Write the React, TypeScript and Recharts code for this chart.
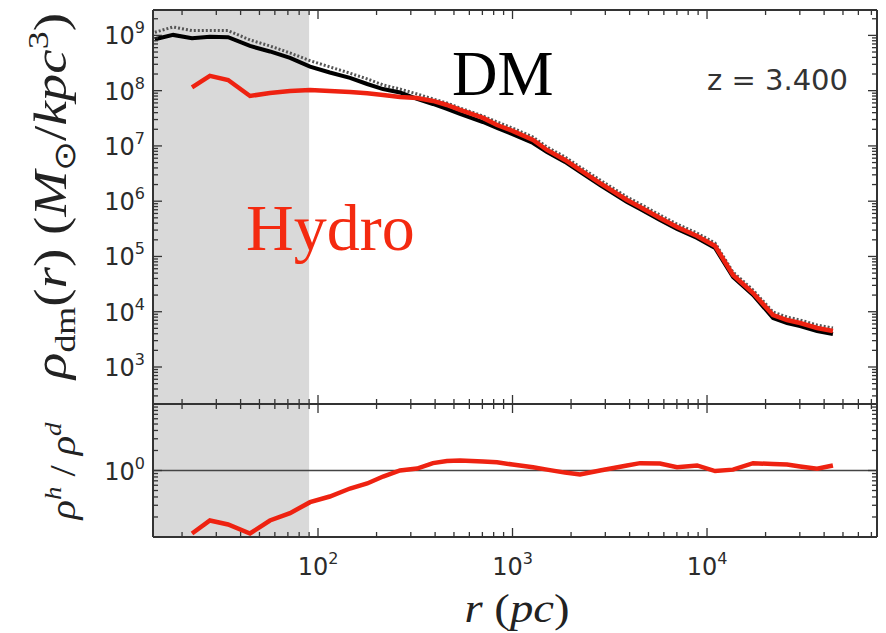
import React from 'react';
import { LineChart, Line, XAxis, YAxis, ReferenceArea, ReferenceLine, Label } from 'recharts';

// radius (pc)
const radiusPc = [
  14.5, 18.0, 22.5, 27.8, 34.5, 44.7, 56.6, 71.8, 91, 115,
  146, 179, 216, 264, 323, 390, 460, 537, 705, 832,
  1000, 1275, 1504, 1862, 2223, 2818, 3880, 4527, 5730, 7010,
  8890, 11000, 13600, 17250, 21850, 25800, 30100, 36800, 44400,
];
// DM density in the hydro run (black solid)
const dmDensity = [
  8.51e8, 1.02e9, 8.87e8, 9.48e8, 9.25e8, 6.44e8, 5.12e8, 3.91e8, 2.72e8, 2.13e8,
  1.7e8, 1.32e8, 1.07e8, 9.27e7, 7.08e7, 5.74e7, 4.67e7, 3.79e7, 2.71e7, 2.11e7,
  1.64e7, 1.13e7, 7.76e6, 5.13e6, 3.38e6, 1.96e6, 9.68e5, 7.23e5, 4.57e5, 3.14e5,
  2.16e5, 1.42e5, 4.25e4, 2.01e4, 7.69e3, 6.25e3, 5.51e3, 4.48e3, 3.95e3,
];
// DM-only run (dotted)
const dmOnlyDensity = [
  1.14e9, 1.42e9, 1.22e9, 1.23e9, 1.22e9, 8.28e8, 6.44e8, 4.81e8, 3.49e8, 2.69e8,
  2.07e8, 1.63e8, 1.27e8, 1.07e8, 8.71e7, 7.08e7, 5.99e7, 4.86e7, 3.48e7, 2.71e7,
  2.11e7, 1.45e7, 9.57e6, 6.31e6, 4.16e6, 2.42e6, 1.19e6, 8.91e5, 5.62e5, 3.86e5,
  2.65e5, 1.75e5, 5.22e4, 2.47e4, 9.89e3, 8.02e3, 7.08e3, 5.75e3, 5.07e3,
];
// Hydro (red)
const hydroDensity = [
  null, null, 1.15e8, 1.85e8, 1.56e8, 8.02e7, 9.08e7, 9.88e7, 1.03e8, 9.88e7,
  9.47e7, 8.97e7, 8.36e7, 7.69e7, 7.38e7, 6.51e7, 5.51e7, 4.48e7, 3.21e7, 2.39e7,
  1.87e7, 1.28e7, 8.45e6, 5.57e6, 3.68e6, 2.13e6, 1.05e6, 7.85e5, 4.97e5, 3.41e5,
  2.34e5, 1.55e5, 4.61e4, 2.18e4, 8.71e3, 7.08e3, 6.25e3, 5.07e3, 4.48e3,
];
// rho_h / rho_d (bottom panel)
const densityRatio = [
  null, null, 0.113, 0.177, 0.154, 0.113, 0.177, 0.228, 0.334, 0.406,
  0.536, 0.638, 0.812, 1.0, 1.07, 1.29, 1.39, 1.41, 1.37, 1.33,
  1.23, 1.12, 1.03, 0.93, 0.87, 1.0, 1.19, 1.29, 1.27, 1.12,
  1.19, 0.98, 1.03, 1.29, 1.25, 1.23, 1.15, 1.06, 1.19,
];

const xMajorTicks = [100, 1000, 10000];
const xMinorTicks = [
  20, 30, 40, 50, 60, 70, 80, 90,
  200, 300, 400, 500, 600, 700, 800, 900,
  2000, 3000, 4000, 5000, 6000, 7000, 8000, 9000,
  20000, 30000, 40000, 50000, 60000, 70000,
];
const densityMajorTicks = [1e3, 1e4, 1e5, 1e6, 1e7, 1e8, 1e9];
const densityMinorTicks = [
  3e2, 4e2, 5e2, 6e2, 7e2, 8e2, 9e2,
  2e3, 3e3, 4e3, 5e3, 6e3, 7e3, 8e3, 9e3,
  2e4, 3e4, 4e4, 5e4, 6e4, 7e4, 8e4, 9e4,
  2e5, 3e5, 4e5, 5e5, 6e5, 7e5, 8e5, 9e5,
  2e6, 3e6, 4e6, 5e6, 6e6, 7e6, 8e6, 9e6,
  2e7, 3e7, 4e7, 5e7, 6e7, 7e7, 8e7, 9e7,
  2e8, 3e8, 4e8, 5e8, 6e8, 7e8, 8e8, 9e8,
  2e9,
];
const ratioMajorTicks = [1];
const ratioMinorTicks = [0.2, 0.3, 0.4, 0.5, 0.6, 0.7, 0.8, 0.9, 2, 3, 4, 5, 6, 7, 8, 9];
const shadedLimitPc = 90;
const redshiftText = 'z = 3.400';
const dmText = 'DM';
const hydroText = 'Hydro';

const X_DOMAIN = [14.18, 74800];
const DENSITY_DOMAIN = [214, 2.88e9];
const RATIO_DOMAIN = [0.1, 10];

const chartData = radiusPc.map((r, i) => ({
  r,
  dm: dmDensity[i],
  dmOnly: dmOnlyDensity[i],
  hydro: hydroDensity[i],
  ratio: densityRatio[i],
}));

const AXIS_COLOR = '#333333';
const TICK_FONT = "'DejaVu Sans', sans-serif";
const MATH_FONT = "'Liberation Serif', 'Times New Roman', serif";
const RED = '#ee2211';

function PowText({ x, y, exp, anchor }: { x: number; y: number; exp: number; anchor: string }) {
  return (
    <text x={x} y={y} textAnchor={anchor as any} fontFamily={TICK_FONT} fontSize={24} fill="#2b2b2b">
      10<tspan dy={-11} fontSize={16}>{exp}</tspan>
    </text>
  );
}

function makeTick(side: 'left' | 'right' | 'top' | 'bottom', majors: number[], labelled: boolean) {
  return function Tick(props: any) {
    const { x, y, payload } = props;
    const v = Number(payload?.value);
    const major = majors.some((m) => Math.abs(v / m - 1) < 1e-6);
    const len = major ? 9 : 5;
    let x2 = x;
    let y2 = y;
    if (side === 'left') x2 = x + len;
    if (side === 'right') x2 = x - len;
    if (side === 'top') y2 = y + len;
    if (side === 'bottom') y2 = y - len;
    const exp = Math.round(Math.log10(v));
    return (
      <g>
        <line x1={x} y1={y} x2={x2} y2={y2} stroke={AXIS_COLOR} strokeWidth={1.3} />
        {labelled && major && side === 'left' && <PowText x={x - 8} y={y + 9} exp={exp} anchor="end" />}
        {labelled && major && side === 'bottom' && <PowText x={x} y={y + 38} exp={exp} anchor="middle" />}
      </g>
    );
  };
}

const xAllTicks = [...xMajorTicks, ...xMinorTicks].sort((a, b) => a - b);
const densityAllTicks = [...densityMajorTicks, ...densityMinorTicks].sort((a, b) => a - b);
const ratioAllTicks = [...ratioMajorTicks, ...ratioMinorTicks].sort((a, b) => a - b);

const axisLine = { stroke: AXIS_COLOR, strokeWidth: 2 };

function TopAnnotations() {
  return (
    <g>
      <text x={452} y={95} fontFamily={MATH_FONT} fontSize={63} fill="#000">{dmText}</text>
      <text x={246} y={250} fontFamily={MATH_FONT} fontSize={66} fill="#f42a10">{hydroText}</text>
      <text x={707} y={90} fontFamily={TICK_FONT} fontSize={29} fill="#333">{redshiftText}</text>
      <text
        transform="translate(66,196) rotate(-90)"
        textAnchor="middle"
        fontFamily={MATH_FONT}
        fontSize={46}
        fill="#222"
        textLength={366}
        lengthAdjust="spacingAndGlyphs"
      >
        <tspan fontStyle="italic">ρ</tspan>
        <tspan fontSize={30} dy={9}>dm</tspan>
        <tspan dy={-9}>(</tspan>
        <tspan fontStyle="italic">r</tspan>
        <tspan>) (</tspan>
        <tspan fontStyle="italic">M</tspan>
        <tspan fontSize={30} dy={9}>⊙</tspan>
        <tspan dy={-9}>/</tspan>
        <tspan fontStyle="italic">kpc</tspan>
        <tspan fontSize={30} dy={-18}>3</tspan>
        <tspan dy={18}>)</tspan>
      </text>
    </g>
  );
}

function BottomAnnotations() {
  return (
    <g>
      <text
        transform="translate(75,471) rotate(-90)"
        textAnchor="middle"
        fontFamily={MATH_FONT}
        fontSize={36}
        fill="#222"
        textLength={97}
        lengthAdjust="spacingAndGlyphs"
      >
        <tspan fontStyle="italic">ρ</tspan>
        <tspan fontStyle="italic" fontSize={24} dy={-14}>h</tspan>
        <tspan dy={14}> / </tspan>
        <tspan fontStyle="italic">ρ</tspan>
        <tspan fontStyle="italic" fontSize={24} dy={-14}>d</tspan>
      </text>
      <text
        x={517}
        y={622}
        textAnchor="middle"
        fontFamily={MATH_FONT}
        fontSize={40}
        fill="#222"
        textLength={105}
        lengthAdjust="spacingAndGlyphs"
      >
        <tspan fontStyle="italic">r</tspan>
        <tspan>  (</tspan>
        <tspan fontStyle="italic">pc</tspan>
        <tspan>)</tspan>
      </text>
    </g>
  );
}

export default function App() {
  return (
    <div style={{ position: 'absolute', left: 0, top: 0, width: 886, height: 633, background: '#fff' }}>
      <div style={{ position: 'absolute', left: 0, top: 0 }}>
        <LineChart width={886} height={633} data={chartData} margin={{ top: 9, right: 0, bottom: 228, left: 0 }}>
          <XAxis
            xAxisId="b"
            dataKey="r"
            type="number"
            scale="log"
            domain={X_DOMAIN}
            allowDataOverflow
            ticks={xAllTicks}
            interval={0}
            height={1}
            tickSize={0}
            tickMargin={0}
            tickLine={false}
            axisLine={axisLine}
            tick={makeTick('bottom', xMajorTicks, false)}
          />
          <XAxis
            xAxisId="t"
            orientation="top"
            dataKey="r"
            type="number"
            scale="log"
            domain={X_DOMAIN}
            allowDataOverflow
            ticks={xAllTicks}
            interval={0}
            height={1}
            tickSize={0}
            tickMargin={0}
            tickLine={false}
            axisLine={axisLine}
            tick={makeTick('top', xMajorTicks, false)}
          />
          <YAxis
            yAxisId="l"
            type="number"
            scale="log"
            domain={DENSITY_DOMAIN}
            allowDataOverflow
            ticks={densityAllTicks}
            interval={0}
            width={153}
            tickSize={0}
            tickMargin={0}
            tickLine={false}
            axisLine={axisLine}
            tick={makeTick('left', densityMajorTicks, true)}
          >
            <Label content={() => <TopAnnotations />} />
          </YAxis>
          <YAxis
            yAxisId="r"
            orientation="right"
            type="number"
            scale="log"
            domain={DENSITY_DOMAIN}
            allowDataOverflow
            ticks={densityAllTicks}
            interval={0}
            width={9}
            tickSize={0}
            tickMargin={0}
            tickLine={false}
            axisLine={axisLine}
            tick={makeTick('right', densityMajorTicks, false)}
          />
          <ReferenceArea
            xAxisId="b"
            yAxisId="l"
            x1={X_DOMAIN[0]}
            x2={shadedLimitPc}
            fill="#d9d9d9"
            fillOpacity={1}
            stroke="none"
          />
          <Line
            xAxisId="b"
            yAxisId="l"
            dataKey="dmOnly"
            stroke="#555"
            strokeWidth={3}
            strokeDasharray="2 2"
            dot={false}
            isAnimationActive={false}
          />
          <Line
            xAxisId="b"
            yAxisId="l"
            dataKey="dm"
            stroke="#000"
            strokeWidth={4}
            dot={false}
            isAnimationActive={false}
          />
          <Line
            xAxisId="b"
            yAxisId="l"
            dataKey="hydro"
            stroke={RED}
            strokeWidth={4.5}
            dot={false}
            isAnimationActive={false}
          />
        </LineChart>
      </div>
      <div style={{ position: 'absolute', left: 0, top: 0 }}>
        <LineChart width={886} height={633} data={chartData} margin={{ top: 403, right: 0, bottom: 0, left: 0 }}>
          <XAxis
            xAxisId="b"
            dataKey="r"
            type="number"
            scale="log"
            domain={X_DOMAIN}
            allowDataOverflow
            ticks={xAllTicks}
            interval={0}
            height={96}
            tickSize={0}
            tickMargin={0}
            tickLine={false}
            axisLine={axisLine}
            tick={makeTick('bottom', xMajorTicks, true)}
          >
            <Label content={() => <BottomAnnotations />} />
          </XAxis>
          <XAxis
            xAxisId="t"
            orientation="top"
            dataKey="r"
            type="number"
            scale="log"
            domain={X_DOMAIN}
            allowDataOverflow
            ticks={xAllTicks}
            interval={0}
            height={1}
            tickSize={0}
            tickMargin={0}
            tickLine={false}
            axisLine={axisLine}
            tick={makeTick('top', xMajorTicks, false)}
          />
          <YAxis
            yAxisId="l"
            type="number"
            scale="log"
            domain={RATIO_DOMAIN}
            allowDataOverflow
            ticks={ratioAllTicks}
            interval={0}
            width={153}
            tickSize={0}
            tickMargin={0}
            tickLine={false}
            axisLine={axisLine}
            tick={makeTick('left', ratioMajorTicks, true)}
          />
          <YAxis
            yAxisId="r"
            orientation="right"
            type="number"
            scale="log"
            domain={RATIO_DOMAIN}
            allowDataOverflow
            ticks={ratioAllTicks}
            interval={0}
            width={9}
            tickSize={0}
            tickMargin={0}
            tickLine={false}
            axisLine={axisLine}
            tick={makeTick('right', ratioMajorTicks, false)}
          />
          <ReferenceArea
            xAxisId="b"
            yAxisId="l"
            x1={X_DOMAIN[0]}
            x2={shadedLimitPc}
            fill="#d9d9d9"
            fillOpacity={1}
            stroke="none"
          />
          <ReferenceLine xAxisId="b" yAxisId="l" y={1} stroke="#444" strokeWidth={1.5} />
          <Line
            xAxisId="b"
            yAxisId="l"
            dataKey="ratio"
            stroke={RED}
            strokeWidth={4.5}
            dot={false}
            isAnimationActive={false}
          />
        </LineChart>
      </div>
    </div>
  );
}
